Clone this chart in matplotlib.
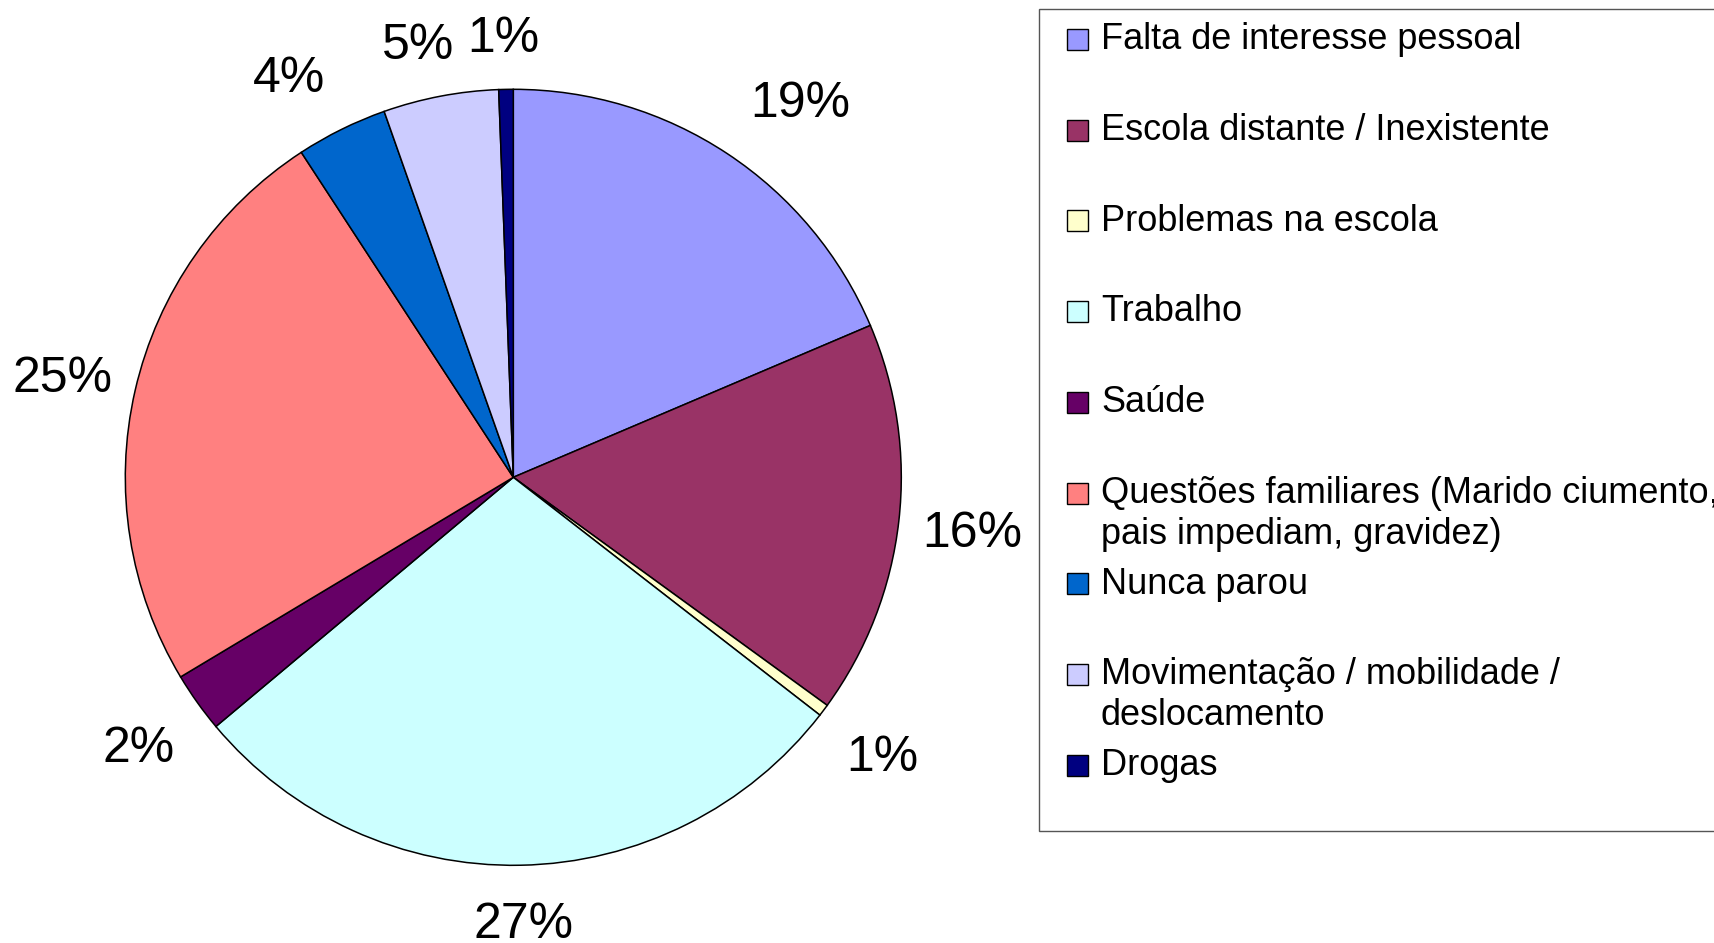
import numpy as np
import matplotlib
matplotlib.use("Agg")
import matplotlib.pyplot as plt
from matplotlib.patches import Rectangle

plt.rcParams['font.family'] = ['Liberation Sans', 'DejaVu Sans']

categories = [
    "Falta de interesse pessoal",
    "Escola distante / Inexistente",
    "Problemas na escola",
    "Trabalho",
    "Saúde",
    "Questões familiares (Marido ciumento,\npais impediam, gravidez)",
    "Nunca parou",
    "Movimentação / mobilidade /\ndeslocamento",
    "Drogas",
]
values = [18.6, 16.4, 0.5, 28.4, 2.5, 24.4, 3.8, 4.8, 0.6]
pct_labels = ["19%", "16%", "1%", "27%", "2%", "25%", "4%", "5%", "1%"]
colors = ["#9999FF", "#993366", "#FFFFCC", "#CCFFFF", "#660066",
          "#FF8080", "#0066CC", "#CCCCFF", "#000080"]

W, H = 1714, 943
fig = plt.figure(figsize=(W / 100, H / 100), dpi=100)

# overlay in pixel coordinates (y downwards) for legend
bg = fig.add_axes([0, 0, 1, 1])
bg.set_xlim(0, W)
bg.set_ylim(H, 0)
bg.axis('off')

cx, cy, R = 513.3, 477.3, 388.0
ax = fig.add_axes([(cx - R) / W, (H - cy - R) / H, 2 * R / W, 2 * R / H])
wedges, _ = ax.pie(values, colors=colors, startangle=90, counterclock=False,
                   radius=1.0,
                   wedgeprops=dict(edgecolor='black', linewidth=1.1))
ax.set_xlim(-1, 1)
ax.set_ylim(-1, 1)
ax.set_aspect('equal')
ax.axis('off')

# percentage labels outside the pie (Excel-like placement)
fig.canvas.draw()
renderer = fig.canvas.get_renderer()
pct_size = 36
em_px = pct_size * 100 / 72
cap = 0.72 * em_px
gx, gy = 23.0, 37.0
for w, lab in zip(wedges, pct_labels):
    ang = np.deg2rad((w.theta1 + w.theta2) / 2)
    ux, uy = np.cos(ang), np.sin(ang)
    t = ax.text(0, 0, lab, fontsize=pct_size, ha='center', va='baseline')
    tw = t.get_window_extent(renderer).width
    sx = np.clip(2.0 * ux, -1, 1)
    sy = np.clip(1.3 * uy, -1, 1)
    px = R * ux + sx * (gx + tw / 2)
    py = R * uy + sy * (gy + cap / 2)
    t.set_position((px / R, (py - cap / 2) / R))

# legend
bg.add_patch(Rectangle((1038.7, 9.3), W - 1038.7 + 5, 831 - 9.3,
                       facecolor='white', edgecolor='#555555', linewidth=1.0))
base0, step, lstep = 49.3, 90.7, 41.0
for i, (cat, col) in enumerate(zip(categories, colors)):
    yb = base0 + step * i
    bg.add_patch(Rectangle((1067, yb + 0.7 - 21), 21, 21, facecolor=col,
                           edgecolor='black', linewidth=1.0))
    for k, line in enumerate(cat.split("\n")):
        bg.text(1101, yb + k * lstep, line, fontsize=26, ha='left',
                va='baseline')

fig.savefig("out.png", dpi=100)
